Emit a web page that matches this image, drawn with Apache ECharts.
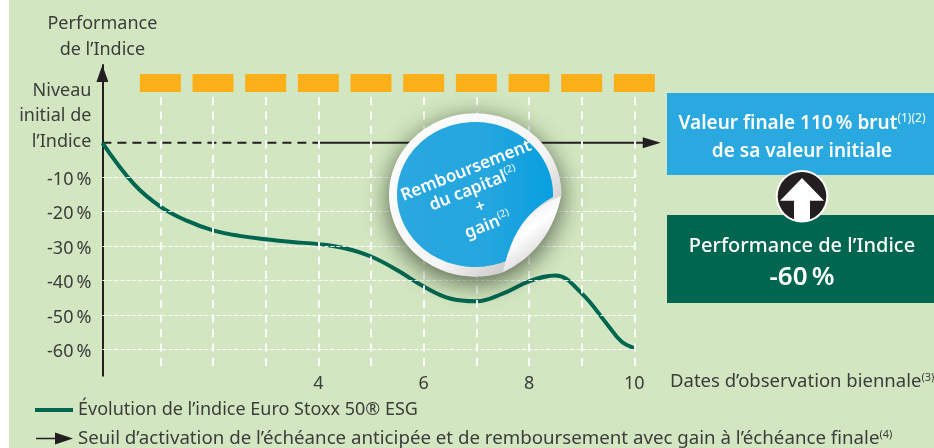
<!DOCTYPE html>
<html><head><meta charset="utf-8">
<style>html,body{margin:0;padding:0;background:#fff}#c{width:934px;height:448px}</style>
<script src="https://cdn.jsdelivr.net/npm/echarts@6/dist/echarts.min.js"></script>
</head><body><div id="c"></div>
<script>
const curveX = [-0.1,0.5,1,1.5,2,2.5,3,3.5,4,4.5,5,5.5,6,6.5,7,7.5,8,8.5,9,9.5,9.75,10];
const curveY = [0,-12,-18.5,-22.6,-25.4,-27,-28,-28.8,-29.4,-30.6,-33,-37,-41.7,-45.2,-46,-43.8,-40.2,-38.5,-43.7,-53,-57.6,-59.6];
const observationDates = [1,2,3,4,5,6,7,8,9,10];
const xTickLabels = [4,6,8,10];
const yGridValues = [-10,-20,-30,-40,-50,-60];
const thresholdLevel = 0;
const seriesIndexName = 'Évolution de l’indice Euro Stoxx 50® ESG';
const seriesThresholdName = 'Seuil d’activation de l’échéance anticipée et de remboursement avec gain à l’échéance finale';
const xAxisTitle = 'Dates d’observation biennale';
const FONT = '"Noto Sans"';
const TXT = '#3c3c3b', INK = '#231f20', GREEN = '#00664f', BLUE = '#29a9e0', ORANGE = '#fbb019', BG = '#d2e7c1';
const X0=-0.1, X1=10.5, Y0=-67.6, Y1=22.6;
const LABEL_NIVEAU = 18.9, BAND = 17.35, V_TOP = 13.3, V_BOT = -65;
const supW = {fontSize:12,fontFamily:FONT,color:'#fff',verticalAlign:'top',padding:[3,0,0,0]};

function arc(cx,cy,rx,ry,a0,a1,n){const p=[];for(let i=0;i<=n;i++){const a=(a0+(a1-a0)*i/n)*Math.PI/180;p.push([cx+rx*Math.cos(a),cy+ry*Math.sin(a)]);}return p;}
function bez(p0,p1,p2,p3,n){const p=[];for(let i=1;i<=n;i++){const t=i/n,u=1-t;p.push([0,1].map(k=>u*u*u*p0[k]+3*u*u*t*p1[k]+3*u*t*t*p2[k]+t*t*t*p3[k]));}return p;}
const curlTip=[561,196], curlEnd=[503,272];
const outerCurl=bez(curlEnd,[525,262],[552,240],curlTip,24);
const innerCurl=bez(curlTip,[540,205],[516,215],curlEnd,24);
const baseShape=arc(475.3,195,86.3,81.7,0,-288.8,180).concat(outerCurl);
const blueShape=arc(475,194.5,78,72.5,2,-292,180).concat(bez([505,263.6],[510,245],[520,215],[553,197],24));
const curlShape=[curlTip].concat(innerCurl,outerCurl);

const chart = echarts.init(document.getElementById('c'),null,{renderer:'canvas'});
const vLines = observationDates.map(d=>[{coord:[d,V_TOP]},{coord:[d,V_BOT]}]);
const hLines = yGridValues.map(v=>[{coord:[X0,v]},{coord:[10,v]}]);
const gz = 10;
chart.setOption({
  animation:false,
  backgroundColor:'#fff',
  textStyle:{fontFamily:FONT,color:TXT},
  grid:{left:102.4,right:273.3,top:65,bottom:72.3,containLabel:false},
  xAxis:{type:'value',min:X0,max:X1,splitLine:{show:false},axisLine:{show:false},axisTick:{show:false},
    axisLabel:{customValues:xTickLabels,color:TXT,fontSize:18,fontFamily:FONT,margin:-1,showMinLabel:true,showMaxLabel:true}},
  yAxis:{type:'value',min:Y0,max:Y1,splitLine:{show:false},axisTick:{show:false},
    axisLine:{show:true,onZero:false,lineStyle:{color:INK,width:2},symbol:['none','triangle'],symbolSize:[12,17],symbolOffset:[0,-8.5]},
    axisLabel:{customValues:[LABEL_NIVEAU].concat(yGridValues),color:TXT,fontSize:18,fontFamily:FONT,margin:11,lineHeight:5,align:'right',verticalAlign:'top',
      rich:{n:{fontSize:18,fontFamily:FONT,color:TXT,lineHeight:25.5,align:'right'}},
      formatter:v=>v===LABEL_NIVEAU?'{n|Niveau}\n{n|initial de}\n{n|l’Indice}':v+'\u2009%'},
    name:'Performance\nde l’Indice',nameLocation:'end',nameGap:2,nameMoveOverlap:false,
    nameTextStyle:{color:TXT,fontSize:18,fontFamily:FONT,lineHeight:26,align:'center',verticalAlign:'bottom'}},
  legend:[
    {left:30,top:396,itemWidth:38,itemHeight:4,itemGap:0,selectedMode:false,data:[{name:seriesIndexName,icon:'rect'}],
     textStyle:{color:TXT,fontSize:18,fontFamily:FONT}},
    {left:31,top:424,itemWidth:37,itemHeight:12,itemGap:0,selectedMode:false,
     data:[{name:seriesThresholdName,icon:'path://M0 5.2H19V0L37 6L19 12V6.8H0Z'}],
     formatter:n=>n+'{sup|(4)}',
     textStyle:{color:TXT,fontSize:18.7,fontFamily:FONT,rich:{sup:{fontSize:11,color:TXT,fontFamily:FONT,verticalAlign:'top'}}}}
  ],
  series:[
    {type:'line',name:'grid',silent:true,symbol:'none',data:[],z:1,
     markLine:{silent:true,symbol:'none',animation:false,label:{show:false},
       lineStyle:{color:'rgba(255,255,255,0.95)',width:2,type:[8,6.5]},data:vLines}},
    {type:'line',name:'gridH',silent:true,symbol:'none',data:[],z:1,
     markLine:{silent:true,symbol:'none',animation:false,label:{show:false},
       lineStyle:{color:'rgba(255,255,255,0.95)',width:1.2,type:[4,2]},data:hLines}},
    {type:'scatter',name:'observations',silent:true,symbol:'rect',symbolSize:[41,18],itemStyle:{color:ORANGE,opacity:1},
     data:observationDates.map(d=>[d,BAND]),z:2},
    {type:'line',name:seriesThresholdName,symbol:'none',silent:true,z:3,color:INK,itemStyle:{color:INK},
     lineStyle:{color:INK,width:2,type:[9,6]},data:[[X0,thresholdLevel],[4,thresholdLevel]]},
    {type:'line',name:seriesThresholdName,symbol:'none',silent:true,z:3,color:INK,itemStyle:{color:INK},
     lineStyle:{color:INK,width:2},
     data:[[4,thresholdLevel],{value:[10.33,thresholdLevel],symbol:'triangle',symbolRotate:-90,symbolSize:[11,18],itemStyle:{color:INK}}]},
    {type:'line',name:seriesIndexName,smooth:0.4,symbol:'none',silent:true,z:4,color:GREEN,itemStyle:{color:GREEN},
     lineStyle:{color:GREEN,width:4,cap:'butt'},data:curveX.map((x,i)=>[x,curveY[i]])}
  ],
  graphic:{elements:[
    {type:'rect',z:-100,silent:true,shape:{x:9,y:0,width:925,height:448},style:{fill:BG}},
    {type:'text',z:gz,silent:true,x:670,y:382,style:{text:xAxisTitle+'{s|(3)}',fill:TXT,font:'18.5px '+FONT,align:'left',verticalAlign:'middle',
      rich:{s:{fontSize:11,fontFamily:FONT,fill:TXT,color:TXT,verticalAlign:'top'}}}},
    {type:'rect',z:gz,silent:true,shape:{x:667,y:93,width:267,height:82},style:{fill:BLUE}},
    {type:'rect',z:gz,silent:true,shape:{x:667,y:215,width:267,height:88},style:{fill:GREEN}},
    {type:'text',z:gz+1,silent:true,x:802,y:138,style:{text:'Valeur finale 110\u2009% brut{s|(1)(2)}\nde sa valeur initiale',fill:'#fff',
      font:'600 19px '+FONT,align:'center',verticalAlign:'middle',lineHeight:28,rich:{s:supW}}},
    {type:'text',z:gz+1,silent:true,x:802,y:263,style:{text:'Performance de l’Indice\n{b|-60\u2009%}',fill:'#fff',
      font:'500 20px '+FONT,align:'center',verticalAlign:'middle',lineHeight:30,
      rich:{b:{fontSize:26,fontWeight:600,fontFamily:FONT,color:'#fff',lineHeight:34}}}},
    {type:'circle',z:gz+2,silent:true,shape:{cx:802,cy:196.3,r:26.3},style:{fill:'#fff'}},
    {type:'circle',z:gz+2,silent:true,shape:{cx:802,cy:196.3,r:24.3},style:{fill:INK}},
    {type:'polygon',z:gz+3,silent:true,shape:{points:[[802,178],[824,200.7],[810,200.7],[810,221],[794,221],[794,200.7],[780,200.7]]},style:{fill:'#fff'}},
    {type:'polygon',z:gz+4,silent:true,shape:{points:baseShape},
     style:{fill:{type:'linear',x:0,y:0,x2:1,y2:1,colorStops:[{offset:0,color:'#ffffff'},{offset:0.6,color:'#f4f4f4'},{offset:1,color:'#a9a9ab'}]},
       shadowBlur:26,shadowColor:'rgba(30,40,20,0.72)',shadowOffsetX:0,shadowOffsetY:6}},
    {type:'polygon',z:gz+5,silent:true,shape:{points:blueShape},
     style:{fill:{type:'linear',x:0,y:0,x2:1,y2:0,colorStops:[{offset:0,color:'#2aa8df'},{offset:0.6,color:'#24a6df'},{offset:1,color:'#079fdf'}]}}},
    {type:'polygon',z:gz+6,silent:true,shape:{points:curlShape},
     style:{fill:{type:'linear',x:0,y:0,x2:1,y2:1,colorStops:[{offset:0,color:'#d8d8da'},{offset:0.45,color:'#ffffff'},{offset:1,color:'#b4b4b6'}]}}},
    {type:'text',z:gz+7,silent:true,x:477,y:198,rotation:0.38,style:{text:'Remboursement\ndu capital{s|(2)}\n+\ngain{s|(2)}',fill:'#fff',
      font:'600 17px '+FONT,align:'center',verticalAlign:'middle',lineHeight:19.5,rich:{s:{fontSize:10,fontFamily:FONT,color:'#fff',verticalAlign:'top',lineHeight:12}}}}
  ]}
});
</script></body></html>
